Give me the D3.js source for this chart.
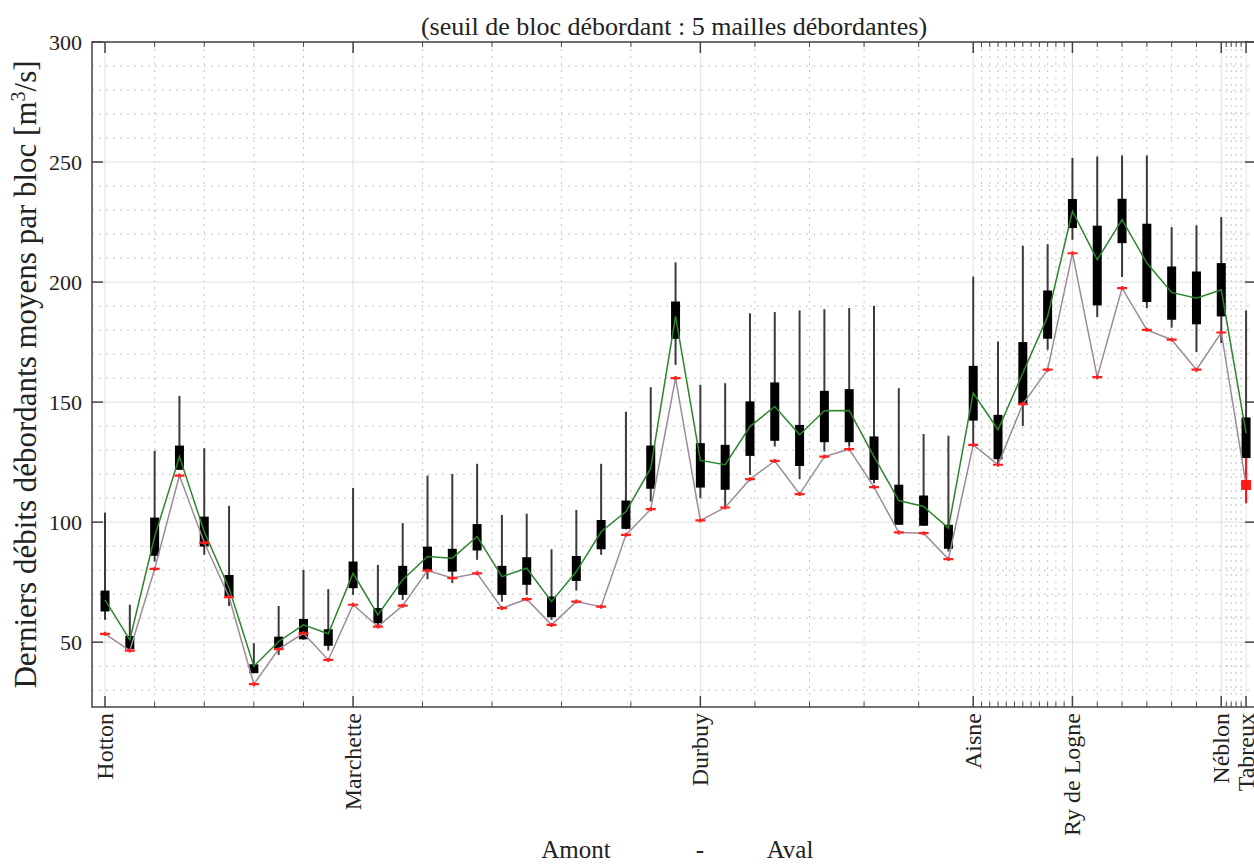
<!DOCTYPE html>
<html>
<head>
<meta charset="utf-8">
<script src="https://cdn.jsdelivr.net/npm/d3@7"></script>
<style>
  body { margin: 0; background: #fff; }
  svg { display: block; font-family: "Liberation Serif", "Times New Roman", serif; }
</style>
</head>
<body>
<svg id="chart"></svg>
<script>
// Blocks numbered 1..47 from upstream (Amont) to downstream (Aval)
const sites = ['Hotton', 'Marchette', 'Durbuy', 'Aisne', 'Ry de Logne', 'Néblon', 'Tabreux'];
const siteBlocks = [1, 11, 25, 36, 40, 46, 47];
// number of minor grid steps between two named sites
const minorSteps = [5, 5, 5, 12, 6, 5];
const yTicks = [50, 100, 150, 200, 250, 300];

// box (quartiles), whiskers, mean (green) and last value (red) per block
const boxLow = [62.8, 47.1, 86, 121.8, 89.8, 69, 37.1, 47.5, 51.2, 48.5,
  72.5, 57.9, 69.7, 80.1, 79.4, 88.2, 69.7, 73.9, 60.4, 75.5,
  88.7, 97.2, 113.9, 176.4, 114.4, 113.5, 127.6, 133.9, 123.4, 133.3,
  133.3, 117.6, 98.9, 98.5, 88.9, 142.3, 126.2, 149.6, 176.4, 222.5,
  190.3, 216.2, 191.7, 184.3, 182.4, 185.7, 126.7];
const boxHigh = [71.5, 52.6, 101.9, 131.9, 102.3, 78, 40.8, 52.3, 59.7, 55.4,
  83.6, 64.2, 81.8, 89.8, 88.9, 99.2, 81.8, 85.4, 69, 85.9,
  100.9, 109, 131.9, 191.9, 132.9, 132.2, 150.3, 158.2, 140.5, 154.7,
  155.4, 135.7, 115.6, 111.1, 98.9, 165.1, 144.7, 175, 196.5, 234.6,
  223.5, 234.7, 224.3, 206.5, 204.4, 207.9, 143.6];
const whiskerLow = [59.3, 47, 83.6, 121.8, 86.4, 65.1, 37.1, 44.7, 51, 46.5,
  69.7, 56, 67.6, 76.2, 74.6, 84.3, 66.9, 69.7, 59.3, 71.5,
  86.4, 97, 108.6, 165.5, 110, 106.5, 119.7, 131.5, 117.9, 129.4,
  131.5, 116.2, 98.9, 98.5, 87.8, 132, 123.9, 140.1, 171.8, 217.6,
  185.4, 202.1, 189.2, 181, 170.8, 174.6, 107.9];
const whiskerHigh = [104, 65.6, 129.7, 152.6, 130.8, 106.8, 49.6, 65.1, 80.1, 72.1,
  114.2, 82.2, 99.6, 119.4, 120.1, 124.3, 103, 103.5, 88.7, 105.1,
  124.3, 146, 156.2, 208.2, 157.2, 157.9, 187, 187.5, 188.2, 188.7,
  189.2, 190.1, 155.8, 136.7, 136, 202.3, 175.3, 215.1, 215.8, 251.7,
  252.3, 252.7, 252.7, 222.9, 223.6, 227.1, 188.2];
const meanValues = [67.6, 51, 94, 127.3, 96, 72.5, 40, 50.3, 57.2, 53.5,
  78.7, 61.4, 76, 85.7, 85, 94, 77.3, 80.8, 66.9, 79.4,
  96, 104.4, 122.5, 185.7, 125.7, 123.9, 139.8, 148.2, 136.4, 146.4,
  146.5, 127.3, 109, 106.5, 97.5, 153.8, 138.5, 162.1, 185.7, 229.5,
  209.3, 226, 207.9, 195.7, 193.3, 196.8, 137];
const lastValues = [53.5, 46.5, 80.5, 119.4, 91.5, 68.8, 32.5, 47.1, 53.7, 42.6,
  65.6, 56.5, 65.2, 79.8, 76.7, 78.7, 64.2, 67.9, 57.2, 66.9,
  64.8, 94.7, 105.4, 160, 100.7, 106.1, 117.9, 125.5, 111.7, 127.3,
  130.4, 114.6, 95.7, 95.4, 84.6, 132.2, 123.9, 149.2, 163.5, 212,
  160.4, 197.5, 180.1, 176, 163.5, 179, 115.5];
// the last block is drawn with a square marker and a red lower whisker
const squareMarkerBlocks = [47];

const W = 1254, H = 866;
const plot = { left: 92, top: 42, right: 1256, bottom: 707 };

const svg = d3.select('#chart').attr('width', W).attr('height', H);

const blocks = d3.range(1, boxLow.length + 1);
const data = blocks.map((b, i) => ({
  block: b, q1: boxLow[i], q3: boxHigh[i], lo: whiskerLow[i], hi: whiskerHigh[i],
  mean: meanValues[i], last: lastValues[i], square: squareMarkerBlocks.includes(b)
}));

const x = d3.scaleLinear().domain([0.475, 47.4]).range([plot.left, plot.right]);
const y = d3.scaleLinear().domain([23, 300]).range([plot.bottom, plot.top]);

// minor positions between named sites
const minorX = [];
siteBlocks.slice(0, -1).forEach((b, i) => {
  const b2 = siteBlocks[i + 1], n = minorSteps[i];
  for (let k = 1; k < n; k++) minorX.push(b + (b2 - b) * k / n);
});
const yMinor = d3.range(30, 300, 10).filter(v => v % 50 !== 0);

// Grid
const grid = svg.append('g');
grid.selectAll('.hminor').data(yMinor).join('line')
    .attr('x1', plot.left).attr('x2', plot.right)
    .attr('y1', d => y(d)).attr('y2', d => y(d))
    .attr('stroke', '#c4c4c4').attr('stroke-dasharray', '2,5');
grid.selectAll('.vminor').data(minorX).join('line')
    .attr('x1', d => x(d)).attr('x2', d => x(d))
    .attr('y1', plot.top).attr('y2', plot.bottom)
    .attr('stroke', '#c4c4c4').attr('stroke-dasharray', '2,5');
grid.selectAll('.hmajor').data(yTicks).join('line')
    .attr('x1', plot.left).attr('x2', plot.right)
    .attr('y1', d => y(d)).attr('y2', d => y(d))
    .attr('stroke', '#e0e0e0');
grid.selectAll('.vmajor').data(siteBlocks).join('line')
    .attr('x1', d => x(d)).attr('x2', d => x(d))
    .attr('y1', plot.top).attr('y2', plot.bottom)
    .attr('stroke', '#e0e0e0');

// Whiskers
svg.append('g').selectAll('line').data(data).join('line')
    .attr('x1', d => x(d.block)).attr('x2', d => x(d.block))
    .attr('y1', d => y(d.lo)).attr('y2', d => y(d.hi))
    .attr('stroke', '#3a3a3a').attr('stroke-width', 2);

// Red lower whisker for square-marker blocks
svg.append('g').selectAll('line').data(data.filter(d => d.square)).join('line')
    .attr('x1', d => x(d.block)).attr('x2', d => x(d.block))
    .attr('y1', d => y(d.lo)).attr('y2', d => y(d.q1))
    .attr('stroke', '#ff1a1a').attr('stroke-width', 2);

// Boxes
const boxW = 9;
svg.append('g').selectAll('rect').data(data).join('rect')
    .attr('x', d => x(d.block) - boxW / 2).attr('width', boxW)
    .attr('y', d => y(d.q3)).attr('height', d => y(d.q1) - y(d.q3))
    .attr('fill', '#000');

// Lines for mean and last values
const line = key => d3.line().x(d => x(d.block)).y(d => y(d[key]));
svg.append('path').datum(data).attr('d', line('last'))
    .attr('fill', 'none').attr('stroke', '#9d8a9d').attr('stroke-width', 1.5);
svg.append('path').datum(data).attr('d', line('mean'))
    .attr('fill', 'none').attr('stroke', '#2b862b').attr('stroke-width', 1.5);

// Red markers
const marks = svg.append('g');
marks.selectAll('.dash').data(data.filter(d => !d.square)).join('path')
    .attr('d', d => `M${x(d.block) - 5},${y(d.last)}h10M${x(d.block)},${y(d.last) - 2}v4`)
    .attr('stroke', '#ff2020').attr('stroke-width', 2.2).attr('fill', 'none');
marks.selectAll('.sq').data(data.filter(d => d.square)).join('rect')
    .attr('x', d => x(d.block) - 5).attr('y', d => y(d.last) - 5)
    .attr('width', 10).attr('height', 10).attr('fill', '#ff1a1a');

// Frame and ticks
const axisColor = '#444';
svg.append('rect')
    .attr('x', plot.left).attr('y', plot.top)
    .attr('width', plot.right - plot.left).attr('height', plot.bottom - plot.top)
    .attr('fill', 'none').attr('stroke', axisColor).attr('stroke-width', 1.5);

const ticks = svg.append('g').attr('stroke', axisColor).attr('stroke-width', 1.5);
siteBlocks.forEach(b => {
  ticks.append('line').attr('x1', x(b)).attr('x2', x(b)).attr('y1', plot.bottom).attr('y2', plot.bottom - 11);
  ticks.append('line').attr('x1', x(b)).attr('x2', x(b)).attr('y1', plot.top).attr('y2', plot.top + 11);
});
minorX.forEach(b => {
  ticks.append('line').attr('x1', x(b)).attr('x2', x(b)).attr('y1', plot.bottom).attr('y2', plot.bottom - 5).attr('stroke-width', 1);
  ticks.append('line').attr('x1', x(b)).attr('x2', x(b)).attr('y1', plot.top).attr('y2', plot.top + 5).attr('stroke-width', 1);
});
yTicks.forEach(v => {
  ticks.append('line').attr('x1', plot.left).attr('x2', plot.left + 11).attr('y1', y(v)).attr('y2', y(v));
  ticks.append('line').attr('x1', plot.right).attr('x2', plot.right - 11).attr('y1', y(v)).attr('y2', y(v));
});

// Y tick labels
svg.append('g').selectAll('text').data(yTicks).join('text')
    .attr('x', plot.left - 10).attr('y', d => y(d)).attr('dy', '0.35em')
    .attr('text-anchor', 'end').attr('font-size', 22).attr('fill', '#222')
    .text(d => d);

// X tick labels (site names, rotated)
svg.append('g').selectAll('text').data(siteBlocks).join('text')
    .attr('transform', d => `translate(${x(d)},${plot.bottom + 6}) rotate(-90)`)
    .attr('dy', '0.33em').attr('text-anchor', 'end')
    .attr('font-size', 24).attr('fill', '#222')
    .text((d, i) => sites[i]);

// Title
svg.append('text')
    .attr('x', (plot.left + plot.right) / 2).attr('y', 35)
    .attr('text-anchor', 'middle').attr('font-size', 26).attr('fill', '#222')
    .text('(seuil de bloc débordant : 5 mailles débordantes)');

// Y axis label
const yLabel = svg.append('text')
    .attr('transform', `translate(36,${(plot.top + plot.bottom) / 2}) rotate(-90)`)
    .attr('text-anchor', 'middle').attr('font-size', 31).attr('fill', '#222');
yLabel.append('tspan').text('Derniers débits débordants moyens par bloc [m');
yLabel.append('tspan').text('3').attr('font-size', 20).attr('baseline-shift', 'super');
yLabel.append('tspan').text('/s]');

// X axis label: "Amont - Aval"
const xLabel = svg.append('text')
    .attr('y', 858).attr('text-anchor', 'middle')
    .attr('font-size', 25).attr('fill', '#222');
xLabel.append('tspan').attr('x', 576).text('Amont');
xLabel.append('tspan').attr('x', 700).text('-');
xLabel.append('tspan').attr('x', 790).text('Aval');
</script>
</body>
</html>
